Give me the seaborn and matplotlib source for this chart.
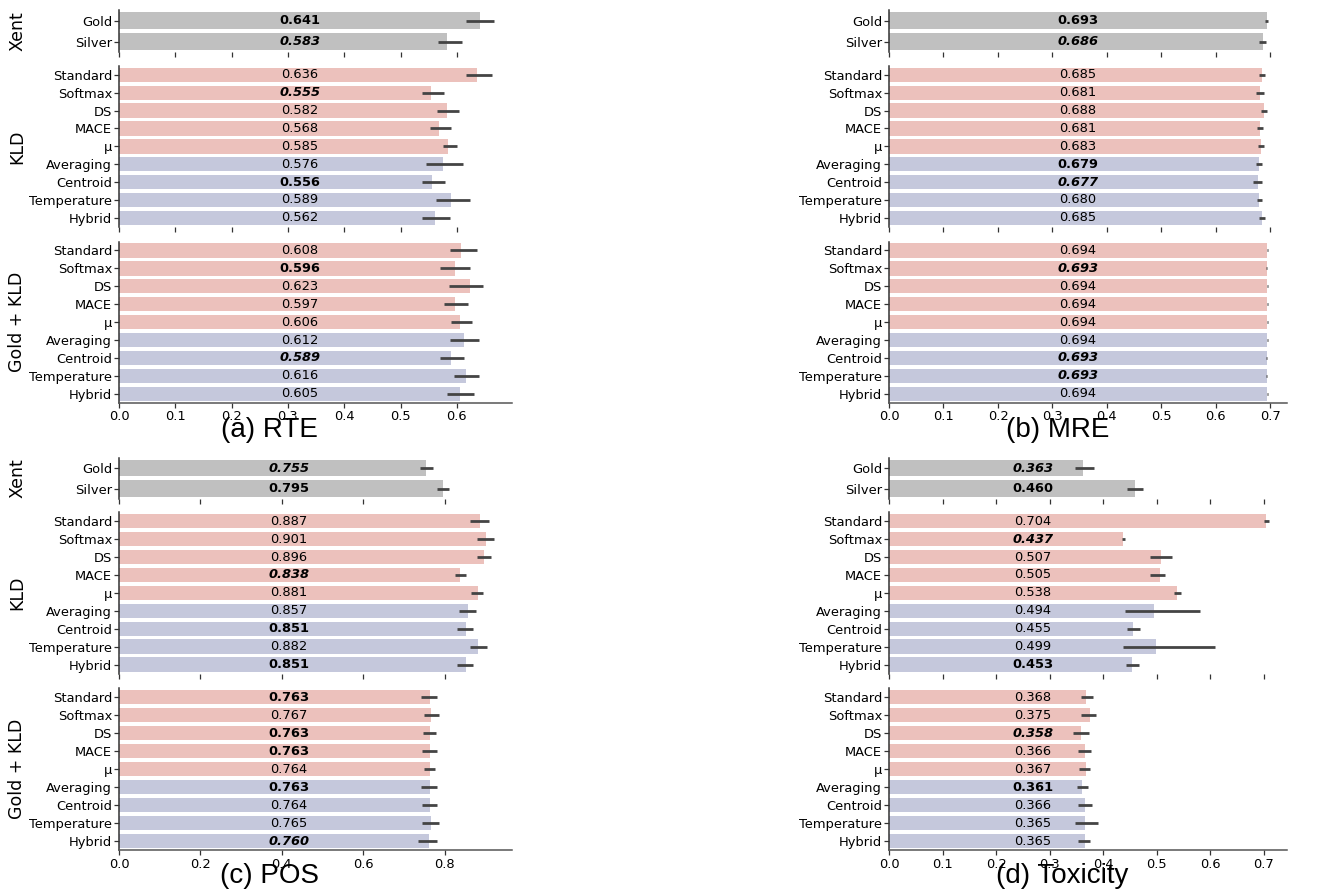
import numpy as np
import pandas as pd
import matplotlib
matplotlib.use("Agg")
import matplotlib.pyplot as plt
import seaborn as sns

# ---------------- data ----------------
xent_labels = ["Gold", "Silver"]
method_labels = ["Standard", "Softmax", "DS", "MACE", "μ",
                 "Averaging", "Centroid", "Temperature", "Hybrid"]
group_names = ["Xent", "KLD", "Gold + KLD"]
panel_titles = ["(a) RTE", "(b) MRE", "(c) POS", "(d) Toxicity"]

# each list: Xent (Gold, Silver), KLD (9 methods), Gold + KLD (9 methods)
rte_values = [0.641, 0.583,
              0.636, 0.555, 0.582, 0.568, 0.585, 0.576, 0.556, 0.589, 0.562,
              0.608, 0.596, 0.623, 0.597, 0.606, 0.612, 0.589, 0.616, 0.605]
rte_ci_low = [0.616, 0.566,
              0.616, 0.538, 0.565, 0.553, 0.575, 0.546, 0.538, 0.563, 0.539,
              0.587, 0.571, 0.586, 0.578, 0.589, 0.588, 0.570, 0.595, 0.582]
rte_ci_high = [0.666, 0.609,
               0.662, 0.577, 0.603, 0.589, 0.601, 0.611, 0.579, 0.624, 0.587,
               0.635, 0.624, 0.646, 0.620, 0.627, 0.639, 0.613, 0.639, 0.631]
rte_style = ["b", "bi",
             "n", "bi", "n", "n", "n", "n", "b", "n", "n",
             "n", "b", "n", "n", "n", "n", "bi", "n", "n"]

mre_values = [0.693, 0.686,
              0.685, 0.681, 0.688, 0.681, 0.683, 0.679, 0.677, 0.680, 0.685,
              0.694, 0.693, 0.694, 0.694, 0.694, 0.694, 0.693, 0.693, 0.694]
mre_ci_low = [0.690, 0.680,
              0.680, 0.673, 0.682, 0.675, 0.678, 0.674, 0.669, 0.675, 0.679,
              0.693, 0.692, 0.693, 0.693, 0.693, 0.693, 0.692, 0.692, 0.693]
mre_ci_high = [0.696, 0.692,
               0.690, 0.689, 0.694, 0.687, 0.688, 0.684, 0.685, 0.685, 0.691,
               0.695, 0.694, 0.695, 0.695, 0.695, 0.695, 0.694, 0.694, 0.695]
mre_style = ["b", "bi",
             "n", "n", "n", "n", "n", "b", "bi", "n", "n",
             "n", "bi", "n", "n", "n", "n", "bi", "bi", "n"]

pos_values = [0.755, 0.795,
              0.887, 0.901, 0.896, 0.838, 0.881, 0.857, 0.851, 0.882, 0.851,
              0.763, 0.767, 0.763, 0.763, 0.764, 0.763, 0.764, 0.765, 0.760]
pos_ci_low = [0.740, 0.780,
              0.863, 0.879, 0.878, 0.825, 0.865, 0.836, 0.830, 0.861, 0.830,
              0.742, 0.748, 0.747, 0.745, 0.750, 0.742, 0.744, 0.745, 0.735]
pos_ci_high = [0.770, 0.811,
               0.909, 0.922, 0.914, 0.852, 0.895, 0.877, 0.869, 0.903, 0.870,
               0.782, 0.786, 0.778, 0.780, 0.777, 0.782, 0.780, 0.785, 0.782]
pos_style = ["bi", "b",
             "n", "n", "n", "bi", "n", "n", "b", "n", "b",
             "b", "n", "b", "b", "n", "b", "n", "n", "bi"]

tox_values = [0.363, 0.460,
              0.704, 0.437, 0.507, 0.505, 0.538, 0.494, 0.455, 0.499, 0.453,
              0.368, 0.375, 0.358, 0.366, 0.367, 0.361, 0.366, 0.365, 0.365]
tox_ci_low = [0.347, 0.445,
              0.700, 0.435, 0.488, 0.488, 0.532, 0.441, 0.444, 0.436, 0.442,
              0.358, 0.359, 0.343, 0.353, 0.355, 0.351, 0.352, 0.348, 0.352]
tox_ci_high = [0.382, 0.474,
               0.709, 0.441, 0.529, 0.515, 0.546, 0.580, 0.469, 0.608, 0.467,
               0.380, 0.386, 0.374, 0.378, 0.375, 0.372, 0.379, 0.390, 0.375]
tox_style = ["bi", "b",
             "n", "bi", "n", "n", "n", "n", "n", "n", "b",
             "n", "n", "bi", "n", "n", "b", "n", "n", "n"]

panels = [
    (rte_values, rte_ci_low, rte_ci_high, rte_style),
    (mre_values, mre_ci_low, mre_ci_high, mre_style),
    (pos_values, pos_ci_low, pos_ci_high, pos_style),
    (tox_values, tox_ci_low, tox_ci_high, tox_style),
]

# ---------------- layout / style ----------------
W, H = 1330, 892
fig = plt.figure(figsize=(W / 100, H / 100), dpi=100)

col_x = [(119, 512), (889, 1287)]
row_y = [[(10.2, 52.1), (65.9, 226.8), (241.5, 402.8)],
         [(458.0, 498.7), (512.2, 673.5), (688.2, 850.1)]]
panel_xmax = [0.698, 0.7306, 0.965, 0.743]
panel_text_x = [0.3215, 0.347, 0.417, 0.268]
title_x = [269, 1058, 269, 1062]
title_baseline = [436.7, 436.7, 883.0, 883.0]

GRAY = "#c0c0c0"
PINK = "#ecc1bc"
LAV = "#c5c8dc"
ERR = "#444444"
SPINE = "#333333"

group_slices = [slice(0, 2), slice(2, 11), slice(11, 20)]
group_labels = [xent_labels, method_labels, method_labels]
group_colors = [[GRAY, GRAY], [PINK] * 5 + [LAV] * 4, [PINK] * 5 + [LAV] * 4]

TICK_FS = 9.4

for p, (vals, lo, hi, sty) in enumerate(panels):
    col, row = p % 2, p // 2
    x0, x1 = col_x[col]
    for g in range(3):
        ytop, ybot = row_y[row][g]
        ax = fig.add_axes([x0 / W, 1 - ybot / H, (x1 - x0) / W, (ybot - ytop) / H])
        sl = group_slices[g]
        v = np.array(vals[sl])
        l = np.array(lo[sl])
        h = np.array(hi[sl])
        st = sty[sl]
        labels = group_labels[g]
        df = pd.DataFrame({"label": labels, "value": v})
        sns.barplot(data=df, x="value", y="label", hue="label",
                    palette=group_colors[g], legend=False, ax=ax,
                    width=0.8, saturation=1, errorbar=None)
        ypos = np.arange(len(v))
        ax.errorbar(v, ypos, xerr=[v - l, h - v], fmt="none", ecolor=ERR,
                    elinewidth=2.0, capsize=0, zorder=4)
        for i, (val, s) in enumerate(zip(v, st)):
            ax.text(panel_text_x[p], i, f"{val:.3f}", ha="center", va="center",
                    fontsize=TICK_FS,
                    fontweight="bold" if "b" in s else "normal",
                    fontstyle="italic" if "i" in s else "normal",
                    color="black", zorder=5)
        ax.set_xlim(0, panel_xmax[p])
        ax.set_ylim(len(v) - 0.5, -0.5)
        ax.set_xlabel("")
        ax.set_ylabel("")
        ax.spines["top"].set_visible(False)
        ax.spines["right"].set_visible(False)
        ax.spines["left"].set_color(SPINE)
        ax.spines["left"].set_linewidth(1.1)
        ax.spines["bottom"].set_color("#555555")
        ax.spines["bottom"].set_linewidth(1.1)
        ax.tick_params(axis="y", length=3.5, width=0.9, color=SPINE,
                       labelsize=TICK_FS, pad=1.5)
        ax.tick_params(axis="x", length=3.5, width=0.9, color=SPINE,
                       labelsize=TICK_FS, pad=2)
        if p == 2:
            ax.xaxis.set_major_locator(matplotlib.ticker.MultipleLocator(0.2))
        else:
            ax.xaxis.set_major_locator(matplotlib.ticker.MultipleLocator(0.1))
        if g < 2:
            ax.spines["bottom"].set_visible(False)
            ax.tick_params(axis="x", labelbottom=False)
        if col == 0:
            fig.text(17 / W, 1 - ((ytop + ybot) / 2) / H, group_names[g],
                     rotation=90, ha="center", va="center", fontsize=12.5)
    fig.text(title_x[p] / W, 1 - title_baseline[p] / H, panel_titles[p],
             ha="center", va="baseline", fontsize=20,
             family=["Liberation Sans", "DejaVu Sans"])

fig.savefig("out.png", dpi=100)
